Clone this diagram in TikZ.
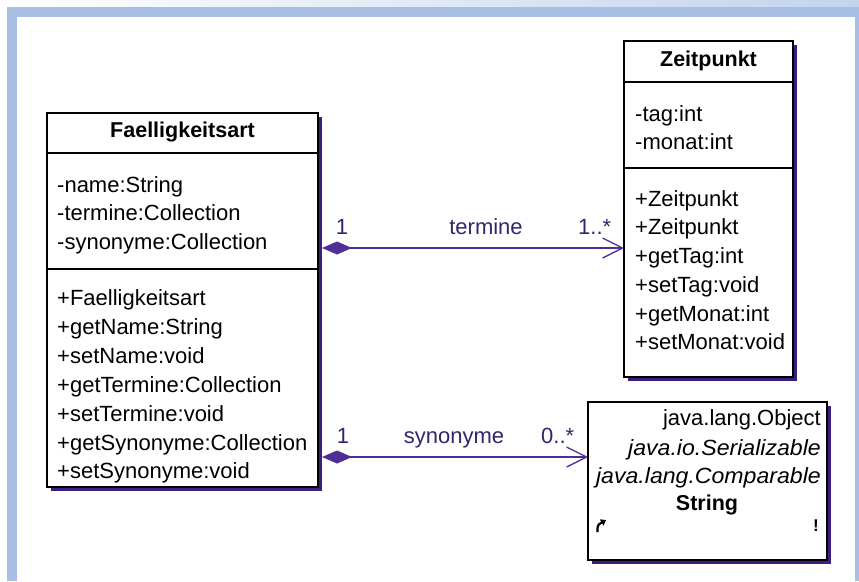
\documentclass[tikz,border=0pt]{standalone}
\usepackage{fontspec}
\setmainfont{Liberation Sans}
\usetikzlibrary{arrows.meta,shadows}
\definecolor{bandblue}{HTML}{A6BFE2}
\definecolor{topblue}{HTML}{C3D4EC}
\definecolor{shadowc}{HTML}{3C1E7E}
\definecolor{assocc}{HTML}{4E2F96}
\definecolor{labelc}{HTML}{33266E}
\tikzset{
  cls/.style={draw=black, line width=1.4pt, fill=white, inner sep=0pt, outer sep=0pt, anchor=north west,
    general shadow={shadow xshift=4pt, shadow yshift=-4pt, fill=shadowc}},
  sep/.style={draw=black, line width=1.4pt},
  txt/.style={font=\fontsize{22}{26}\selectfont, inner sep=0pt, anchor=base west, text=black},
  hdr/.style={font=\fontsize{21.5}{26}\selectfont\bfseries, inner sep=0pt, anchor=base, text=black},
  rtxt/.style={font=\fontsize{22}{26}\selectfont, inner sep=0pt, anchor=base east, text=black},
  itxt/.style={rtxt, font=\fontsize{22}{26}\selectfont\itshape\addfontfeature{FakeStretch=1.05}},
  lbl/.style={font=\fontsize{22}{26}\selectfont, inner sep=0pt, anchor=base, text=labelc},
  assoc/.style={draw=assocc, line width=2pt,
    {Diamond[length=30pt,width=13pt,fill=assocc]}-{Straight Barb[length=20pt,width=20pt,line width=1.3pt]}}
}
\begin{document}
\begin{tikzpicture}[x=1pt,y=-1pt]
\useasboundingbox (0,0) rectangle (859,581);
% background and frame
\fill[white] (0,0) rectangle (859,581);
\shade[left color=white, right color=topblue] (0,0) rectangle (859,7);
\fill[bandblue] (7,7) rectangle (859,17);
\fill[bandblue] (7,7) rectangle (17,581);
\fill[bandblue] (855,7) rectangle (859,581);

% class Faelligkeitsart
\node[cls, minimum width=271pt, minimum height=374pt] (F) at (47,113) {};
\draw[sep] (F.west |- 0,153) -- (F.east |- 0,153);
\draw[sep] (F.west |- 0,269) -- (F.east |- 0,269);
\node[hdr] (Fh) at (182.5,137.5) {Faelligkeitsart};
\node[txt] (Fa1) at (57,192) {-name:String};
\node[txt] (Fa2) at (57,220.5) {-termine:Collection};
\node[txt] (Fa3) at (57,249) {-synonyme:Collection};
\node[txt] (Fm1) at (57,305) {+Faelligkeitsart};
\node[txt] (Fm2) at (57,334) {+getName:String};
\node[txt] (Fm3) at (57,363) {+setName:void};
\node[txt] (Fm4) at (57,392) {+getTermine:Collection};
\node[txt] (Fm5) at (57,421) {+setTermine:void};
\node[txt] (Fm6) at (57,450) {+getSynonyme:Collection};
\node[txt] (Fm7) at (57,478) {+setSynonyme:void};

% class Zeitpunkt
\node[cls, minimum width=169pt, minimum height=336pt] (Z) at (624,41) {};
\draw[sep] (Z.west |- 0,82) -- (Z.east |- 0,82);
\draw[sep] (Z.west |- 0,168) -- (Z.east |- 0,168);
\node[hdr] (Zh) at (708.5,66.5) {Zeitpunkt};
\node[txt] (Za1) at (635,121) {-tag:int};
\node[txt] (Za2) at (635,149) {-monat:int};
\node[txt] (Zm1) at (635,206) {+Zeitpunkt};
\node[txt] (Zm2) at (635,234) {+Zeitpunkt};
\node[txt] (Zm3) at (635,263) {+getTag:int};
\node[txt] (Zm4) at (635,292) {+setTag:void};
\node[txt] (Zm5) at (635,321) {+getMonat:int};
\node[txt] (Zm6) at (635,349) {+setMonat:void};

% class String
\node[cls, minimum width=239pt, minimum height=158pt] (S) at (588,402) {};
\node[rtxt] (S1) at (821,425) {java.lang.Object};
\node[itxt] (S2) at (821,455) {java.io.Serializable};
\node[itxt] (S3) at (821,483) {java.lang.Comparable};
\node[hdr] (Sh) at (707,510) {String};
\draw[line width=2.2pt, -{Triangle[length=5pt,width=7pt]}] (597.5,532) .. controls (597.5,525) .. (606,520);
\node[font=\fontsize{17}{18}\selectfont\bfseries, inner sep=0pt, anchor=base] (Sx) at (816,531) {!};

% associations
\coordinate (tY) at (0,248);
\coordinate (sY) at (0,457);
\draw[assoc] ([xshift=4pt]F.east |- tY) -- (Z.west |- tY);
\draw[assoc] ([xshift=4pt]F.east |- sY) -- (S.west |- sY);

\node[lbl] (t1) at (342,234) {1};
\node[lbl] (tn) at (486,234) {termine};
\node[lbl, anchor=base west] (t2) at (578,234) {1..*};
\node[lbl] (s1) at (343,443) {1};
\node[lbl] (sn) at (454,443) {synonyme};
\node[lbl, anchor=base west] (s2) at (541,443) {0..*};
\end{tikzpicture}
\end{document}
